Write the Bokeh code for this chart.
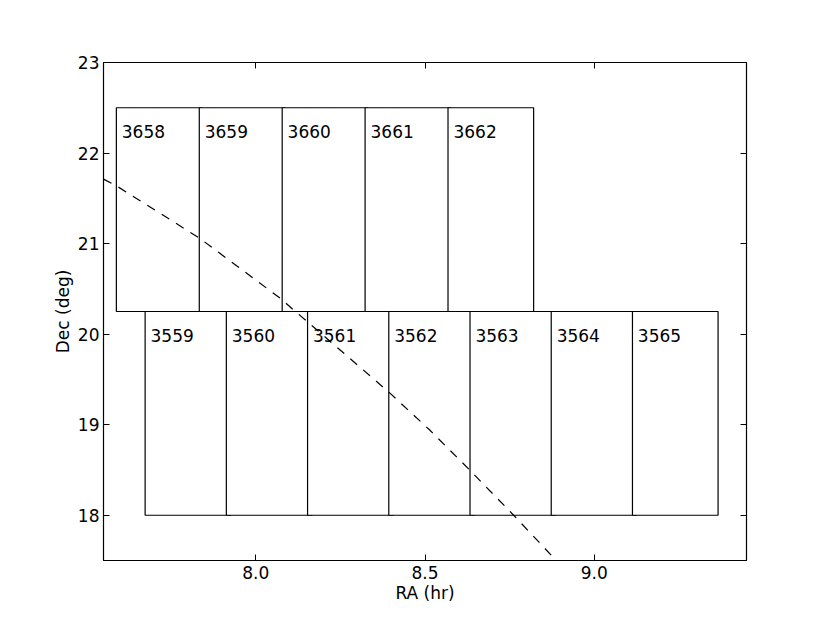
from bokeh.plotting import figure
from bokeh.models import ColumnDataSource, Range1d, LinearAxis, FixedTicker
from bokeh.core.properties import value
from bokeh.embed import file_html
from bokeh.resources import INLINE

FONT = "DejaVu Sans"

# Field data
top_fields = ["3658", "3659", "3660", "3661", "3662"]
top_ra_start = [7.588, 7.833, 8.078, 8.323, 8.568]
top_dec_low = 20.25
top_dec_high = 22.5

bottom_fields = ["3559", "3560", "3561", "3562", "3563", "3564", "3565"]
bottom_ra_start = [7.673, 7.913, 8.153, 8.393, 8.633, 8.873, 9.113]
bottom_dec_low = 18.0
bottom_dec_high = 20.25

field_width = 0.253

# Dashed curve
curve_ra = [7.55, 7.589, 7.833, 8.077, 8.110, 8.153, 8.393, 8.514, 8.634, 8.762, 8.886]
curve_dec = [21.712, 21.636, 21.062, 20.383, 20.272, 20.136, 19.360, 18.941, 18.492, 18.0, 17.507]

x_ticks = [8.0, 8.5, 9.0]
x_tick_labels = ["8.0", "8.5", "9.0"]
y_ticks = [18, 19, 20, 21, 22, 23]
y_tick_labels = ["18", "19", "20", "21", "22", "23"]

names = top_fields + bottom_fields
lefts = top_ra_start + bottom_ra_start
rights = [r + field_width for r in lefts]
bottoms = [top_dec_low] * len(top_fields) + [bottom_dec_low] * len(bottom_fields)
tops = [top_dec_high] * len(top_fields) + [bottom_dec_high] * len(bottom_fields)

src = ColumnDataSource(dict(left=lefts, right=rights, bottom=bottoms, top=tops,
                            name=names,
                            tx=[l + 0.016 for l in lefts],
                            ty=[t - 0.265 for t in tops]))

p = figure(frame_width=643, frame_height=498,
           min_border_left=103, min_border_top=62, min_border_right=76, min_border_bottom=50,
           x_range=Range1d(7.55, 9.45), y_range=Range1d(17.5, 23.0),
           output_backend="svg", toolbar_location=None,
           background_fill_color="white", border_fill_color="white")

p.quad(left="left", right="right", bottom="bottom", top="top", source=src,
       fill_color="white", line_color="black", line_width=1.2)

p.line(curve_ra, curve_dec, line_color="black", line_width=1.2, line_dash="9 8")

p.text(x="tx", y="ty", text="name", source=src,
       text_font=value(FONT), text_font_size=value("17px"),
       text_align="left", text_baseline="alphabetic", text_color="black")

p.xgrid.visible = False
p.ygrid.visible = False
p.outline_line_color = "black"
p.outline_line_width = 1.2

p.xaxis.ticker = FixedTicker(ticks=x_ticks)
p.xaxis.major_label_overrides = dict(zip(x_ticks, x_tick_labels))
p.yaxis.ticker = FixedTicker(ticks=y_ticks)
p.yaxis.major_label_overrides = dict(zip(y_ticks, y_tick_labels))

p.xaxis.axis_label = "RA (hr)"
p.yaxis.axis_label = "Dec (deg)"

for ax in [p.xaxis[0], p.yaxis[0]]:
    ax.major_tick_in = 6
    ax.major_tick_out = 0
    ax.minor_tick_line_color = None
    ax.major_tick_line_color = "black"
    ax.axis_line_color = "black"
    ax.major_label_text_font = FONT
    ax.major_label_text_font_size = "17px"
    ax.major_label_text_color = "black"
    ax.axis_label_text_font = FONT
    ax.axis_label_text_font_size = "17px"
    ax.axis_label_text_font_style = "normal"
    ax.axis_label_text_color = "black"

p.xaxis[0].major_label_standoff = 5
p.xaxis[0].axis_label_standoff = 1
p.yaxis[0].major_label_standoff = 4
p.yaxis[0].axis_label_standoff = 2

# mirrored ticks on top and right
top_ax = LinearAxis(ticker=FixedTicker(ticks=x_ticks),
                    major_label_overrides={t: "" for t in x_ticks})
right_ax = LinearAxis(ticker=FixedTicker(ticks=y_ticks),
                      major_label_overrides={t: "" for t in y_ticks})
for ax in [top_ax, right_ax]:
    ax.major_tick_in = 6
    ax.major_tick_out = 0
    ax.minor_tick_line_color = None
    ax.major_tick_line_color = "black"
    ax.axis_line_color = "black"
    ax.major_label_text_font_size = "1px"
p.add_layout(top_ax, "above")
p.add_layout(right_ax, "right")

open("out.html", "w").write(file_html(p, INLINE))
